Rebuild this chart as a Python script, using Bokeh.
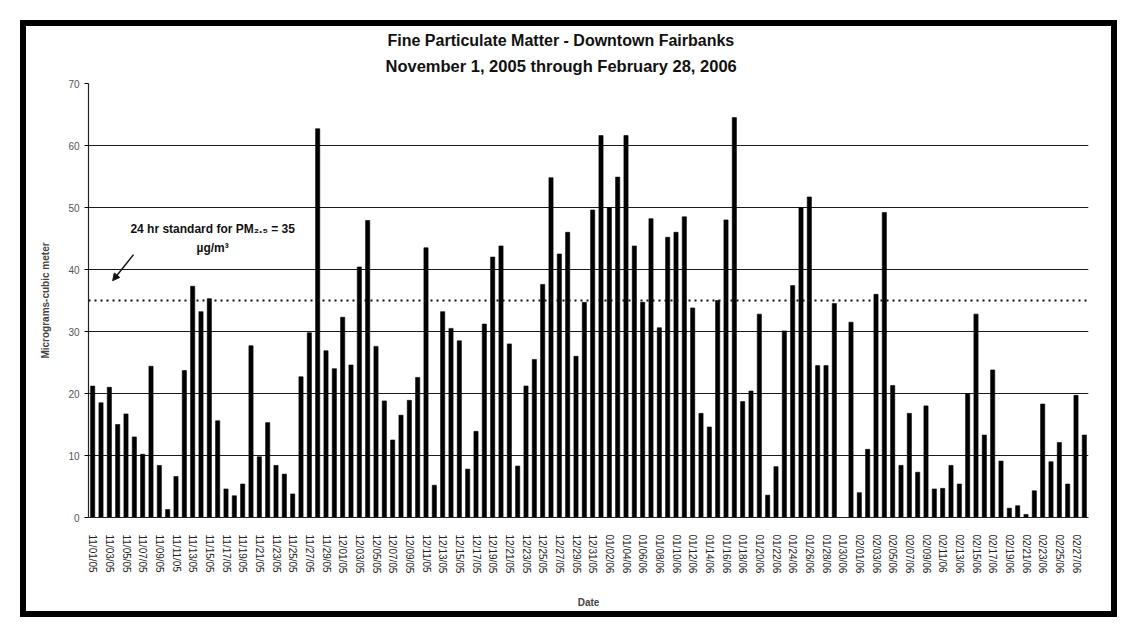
from datetime import date, timedelta
from bokeh.plotting import figure
from bokeh.models import (Range1d, FixedTicker, Span, Label, Arrow, NormalHead,
                          Title, ColumnDataSource)
from bokeh.embed import file_html
from bokeh.resources import INLINE

# ---------------- data ----------------
start_day = date(2005, 11, 1)
n_days = 120
dates = [(start_day + timedelta(days=d)).strftime("%m/%d/%y") for d in range(n_days)]

pm25 = [
    21.2, 18.5, 21.0, 15.0, 16.7, 13.0, 10.2, 24.4, 8.4, 1.3,
    6.6, 23.7, 37.3, 33.2, 35.3, 15.6, 4.6, 3.5, 5.4, 27.7,
    9.8, 15.3, 8.4, 7.0, 3.8, 22.7, 29.8, 62.7, 26.9, 24.0,
    32.3, 24.6, 40.4, 47.9, 27.6, 18.8, 12.5, 16.5, 18.9, 22.6,
    43.5, 5.2, 33.2, 30.5, 28.5, 7.8, 13.9, 31.2, 42.0, 43.8,
    28.0, 8.3, 21.2, 25.5, 37.6, 54.8, 42.5, 46.0, 26.0, 34.7,
    49.6, 61.6, 50.0, 54.9, 61.6, 43.8, 34.7, 48.2, 30.6, 45.2,
    46.0, 48.5, 33.8, 16.8, 14.6, 35.0, 48.0, 64.5, 18.7, 20.4,
    32.8, 3.6, 8.2, 30.1, 37.4, 50.0, 51.7, 24.5, 24.5, 34.5,
    0.0, 31.5, 4.0, 11.0, 36.0, 49.2, 21.3, 8.4, 16.8, 7.3,
    18.0, 4.6, 4.7, 8.4, 5.4, 20.0, 32.8, 13.3, 23.8, 9.1,
    1.5, 1.9, 0.5, 4.3, 18.3, 9.0, 12.1, 5.4, 19.7, 13.3,
]

y_ticks = [0, 10, 20, 30, 40, 50, 60, 70]
x_tick_idx = list(range(0, n_days, 2))
standard_value = 35

title_text = "Fine Particulate Matter - Downtown Fairbanks"
subtitle_text = "November 1, 2005 through February 28, 2006"
y_label = "Micrograms-cubic meter"
x_label = "Date"
note_line1 = "24 hr standard for PM\u2082.\u2085 = 35"
note_line2 = "\u00b5g/m\u00b3"

FONT = "Liberation Sans"

# ---------------- figure ----------------
p = figure(
    frame_width=1000, frame_height=434,
    x_range=Range1d(-0.5, n_days - 0.5), y_range=Range1d(0, 70),
    output_backend="svg", toolbar_location=None,
    min_border_left=62, min_border_right=23, min_border_top=57, min_border_bottom=94,
    background_fill_color="white", border_fill_color="white",
    outline_line_color=None,
    styles={"border": "6px solid black", "margin-left": "20px", "margin-top": "20px"},
)

# titles (added subtitle first so it sits closer to the plot)
p.add_layout(Title(text=subtitle_text, align="left", offset=297, text_font=FONT,
                   text_font_size="16.5px", text_font_style="bold",
                   text_color="#111", standoff=17), "above")
p.add_layout(Title(text=title_text, align="left", offset=299, text_font=FONT,
                   text_font_size="16px", text_font_style="bold",
                   text_color="#111", standoff=-4), "above")

# grid
p.xgrid.grid_line_color = None
p.ygrid.ticker = FixedTicker(ticks=[10, 20, 30, 40, 50, 60])
p.ygrid.grid_line_color = "#1a1a1a"
p.ygrid.grid_line_width = 1.2

# bars
src = ColumnDataSource(dict(x=list(range(n_days)), top=pm25, d=dates))
p.vbar(x="x", top="top", bottom=0, width=0.5, source=src,
       fill_color="black", line_color="black", line_width=0.6)

# standard line
p.add_layout(Span(location=standard_value, dimension="width", line_color="#111",
                  line_width=2, line_dash="2 4"))

# y axis
p.yaxis.ticker = FixedTicker(ticks=y_ticks)
p.yaxis.axis_label = y_label
p.yaxis.axis_label_text_font = FONT
p.yaxis.axis_label_text_font_size = "10px"
p.yaxis.axis_label_text_font_style = "bold"
p.yaxis.axis_label_standoff = 14
p.yaxis.major_label_text_font = FONT
p.yaxis.major_label_text_font_size = "10px"
p.yaxis.major_label_text_color = "#555"
p.yaxis.axis_line_color = "#222"
p.yaxis.axis_line_width = 1.2
p.yaxis.major_tick_out = 4
p.yaxis.major_tick_in = 0
p.yaxis.minor_tick_line_color = None

# x axis
p.xaxis.ticker = FixedTicker(ticks=x_tick_idx)
p.xaxis.major_label_overrides = {i: dates[i] for i in x_tick_idx}
p.xaxis.major_label_orientation = "vertical"
p.xaxis.major_label_text_font = FONT
p.xaxis.major_label_text_font_size = "10px"
p.xaxis.major_label_text_color = "#222"
p.xaxis.major_label_standoff = 11
p.xaxis.axis_label = x_label
p.xaxis.axis_label_text_font = FONT
p.xaxis.axis_label_text_font_size = "10px"
p.xaxis.axis_label_text_font_style = "bold"
p.xaxis.axis_label_standoff = 21
p.xaxis.axis_line_color = "#222"
p.xaxis.major_tick_line_color = None
p.xaxis.minor_tick_line_color = None

# annotation text + arrow
p.add_layout(Label(x=14.4, y=46.6, text=note_line1, text_align="center",
                   text_baseline="middle", text_font=FONT, text_font_size="12px",
                   text_font_style="bold", text_color="#111"))
p.add_layout(Label(x=14.4, y=43.4, text=note_line2, text_align="center",
                   text_baseline="middle", text_font=FONT, text_font_size="12px",
                   text_font_style="bold", text_color="#111"))
p.add_layout(Arrow(x_start=4.9, y_start=42.4, x_end=2.4, y_end=38.2,
                   line_color="#111", line_width=1.5,
                   end=NormalHead(size=7, fill_color="#111", line_color="#111")))

open("out.html", "w").write(file_html(p, INLINE))
